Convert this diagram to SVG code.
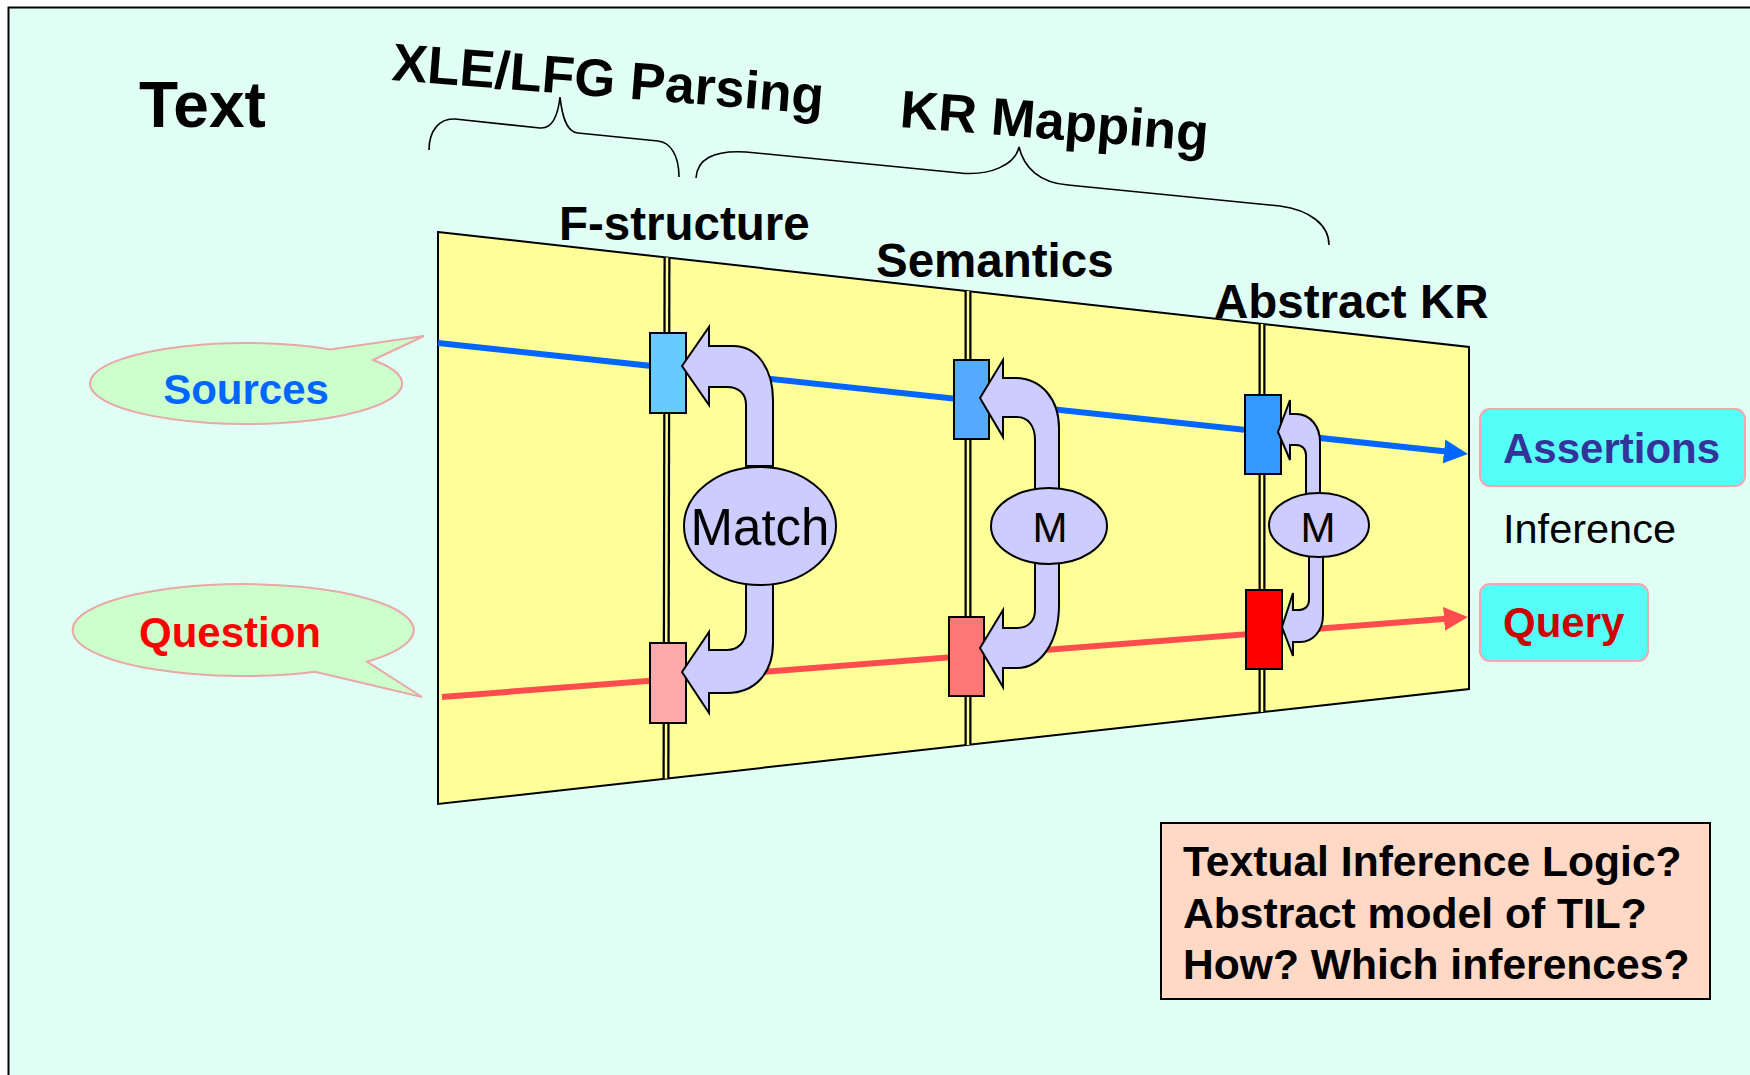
<svg xmlns="http://www.w3.org/2000/svg" width="1750" height="1075" viewBox="0 0 1750 1075">
<defs>
<style>
text{font-family:"Liberation Sans",Arial,sans-serif;}
.b{font-weight:bold;}
.hdr{font-size:47.5px;font-weight:bold;fill:#000;}
.big{font-size:53px;font-weight:bold;fill:#000;}
.brace{fill:none;stroke:#000;stroke-width:1.6;}
.col1{stroke:#000;stroke-width:7;}
.col2{stroke:#FFFF99;stroke-width:2.5;}
.box{stroke:#000;stroke-width:2;}
.carrow{fill:#CCCCFF;stroke:#000;stroke-width:2;stroke-linejoin:miter;}
.mell{fill:#CCCCFF;stroke:#000;stroke-width:2;}
.bubble{fill:#CCFFCC;stroke:#E8A8A8;stroke-width:2;}
.tag{fill:#55FFF8;stroke:#F0A8B0;stroke-width:2;}
.lbl{font-size:42px;font-weight:bold;}
.til{font-size:42.6px;font-weight:bold;fill:#000;}
</style>
<marker id="ab" markerUnits="userSpaceOnUse" markerWidth="26" markerHeight="26" refX="2" refY="12" orient="auto"><path d="M0,0 L24,12 L0,24 Z" fill="#0066FF"/></marker>
<marker id="ar" markerUnits="userSpaceOnUse" markerWidth="26" markerHeight="26" refX="2" refY="12" orient="auto"><path d="M0,0 L24,12 L0,24 Z" fill="#FF4D4D"/></marker>
</defs>
<rect x="0" y="0" width="1750" height="1075" fill="#FFFFFF"/>
<rect id="frame" x="8.5" y="7.5" width="1800" height="1200" fill="#E0FFF5" stroke="#000" stroke-width="2"/>

<g id="title-text"><text class="b" x="139" y="127" font-size="64">Text</text></g>
<g id="xle-parsing"><text class="big" transform="translate(391,80) rotate(4.5)">XLE/LFG Parsing</text>
<path class="brace" d="M429,150 C429,130 440,118 455,119 L540,128 C552,129 558,115 560,97 C562,115 566,132 578,133 L658,141 C670,142 679,155 679,177"/></g>
<g id="kr-mapping"><text class="big" transform="translate(899,127) rotate(4.5)">KR Mapping</text>
<path class="brace" d="M696,178 C697,160 712,150 746,152 L960,173 C990,176 1015,165 1019,147 C1024,168 1040,183 1068,185 L1280,206 C1310,210 1329,225 1329,245"/></g>

<g id="plane"><polygon points="438,232 1469,347 1469,689 438,804" fill="#FFFF99" stroke="#000" stroke-width="2"/></g>

<g id="columns">
<line class="col1" x1="667" y1="257.5" x2="666" y2="778.5"/><line class="col2" x1="667" y1="257.5" x2="666" y2="778.5"/>
<line class="col1" x1="968" y1="291" x2="968" y2="745"/><line class="col2" x1="968" y1="291" x2="968" y2="745"/>
<line class="col1" x1="1262" y1="324" x2="1262" y2="712"/><line class="col2" x1="1262" y1="324" x2="1262" y2="712"/>
</g>

<g id="connectors">
<line x1="438" y1="343" x2="1446" y2="451.6" stroke="#0066FF" stroke-width="6" marker-end="url(#ab)"/>
<line x1="442" y1="697" x2="1446" y2="618.7" stroke="#FF4D4D" stroke-width="6" marker-end="url(#ar)"/>
</g>

<g id="fstructure-boxes">
<rect class="box" x="650" y="333" width="36" height="80" fill="#66CCFF"/>
<rect class="box" x="650" y="643" width="36" height="80" fill="#FFAAAA"/>
</g>
<g id="semantics-boxes">
<rect class="box" x="954" y="360" width="35" height="79" fill="#55AAFF"/>
<rect class="box" x="949" y="617" width="35" height="79" fill="#FF7777"/>
</g>
<g id="abstract-boxes">
<rect class="box" x="1245" y="395" width="36" height="79" fill="#3399FF"/>
<rect class="box" x="1246" y="590" width="36" height="79" fill="#FF0000"/>
</g>

<g id="match">
<path class="carrow" d="M682,366 L709,327 L709,346 L733,346 C758,346 773,370 773,400 L773,466 L746,466 L746,405 C746,393 738,387 727,387 L709,387 L709,405 Z"/>
<path class="carrow" d="M682,672 L709,632 L709,650 L727,650 C738,650 746,642 746,630 L746,580 L773,580 L773,643 C773,673 755,693 727,693 L709,693 L709,713 Z"/>
<ellipse class="mell" cx="760" cy="526" rx="76" ry="59"/>
<text x="760" y="545" font-size="51" text-anchor="middle">Match</text>
</g>

<g id="m-semantics">
<path class="carrow" d="M980,398 L1003,360 L1003,378 L1015,378 C1042,378 1059,400 1059,428 L1059,492 L1035,492 L1035,440 C1035,426 1028,417 1017,417 L1003,417 L1003,437 Z"/>
<path class="carrow" d="M980,648 L1003,610 L1003,628 L1017,628 C1028,628 1035,621 1035,610 L1035,560 L1059,560 L1059,605 C1059,640 1042,668 1017,668 L1003,668 L1003,687 Z"/>
<ellipse class="mell" cx="1049" cy="526" rx="58" ry="38"/>
<text x="1050" y="542" font-size="42" text-anchor="middle">M</text>
</g>

<g id="m-abstract">
<path class="carrow" d="M1278,432 L1290,400 L1290,414 L1296,414 C1310,414 1320,426 1320,442 L1320,496 L1306,496 L1306,455 C1306,449 1302,445 1296,445 L1290,445 L1290,460 Z"/>
<path class="carrow" d="M1282,627 L1293,593 L1293,610 L1299,610 C1305,610 1309,606 1309,600 L1309,555 L1323,555 L1323,615 C1323,632 1312,642 1300,642 L1293,642 L1293,656 Z"/>
<ellipse class="mell" cx="1319" cy="525" rx="50" ry="32"/>
<text x="1318" y="542" font-size="42" text-anchor="middle">M</text>
</g>

<g id="layer-labels">
<text class="hdr" x="559" y="240">F-structure</text>
<text class="hdr" x="876" y="277">Semantics</text>
<text class="hdr" x="1214" y="318">Abstract KR</text>
</g>

<g id="sources">
<path class="bubble" d="M373,360 L424,336 L330,349.4 A156 40.5 0 1 0 373,360 Z"/>
<text class="lbl" x="246" y="404" text-anchor="middle" fill="#0066FF">Sources</text>
</g>
<g id="question">
<path class="bubble" d="M367,661.7 L422,697 L315,671.8 A170.5 46 0 1 1 367,661.7 Z"/>
<text class="lbl" x="230" y="647" text-anchor="middle" fill="#FF0000">Question</text>
</g>

<g id="assertions">
<rect class="tag" x="1480" y="409" width="265" height="77" rx="10"/>
<text class="lbl" x="1503" y="463" fill="#333399">Assertions</text>
</g>
<g id="inference"><text x="1503" y="543" font-size="41.5" fill="#000">Inference</text></g>
<g id="query">
<rect class="tag" x="1480" y="584" width="168" height="77" rx="10"/>
<text class="lbl" x="1503" y="637" fill="#CC0000">Query</text>
</g>

<g id="til-box">
<rect x="1161" y="823" width="549" height="176" fill="#FFD9C5" stroke="#000" stroke-width="2"/>
<text class="til" x="1183" y="876">Textual Inference Logic?</text>
<text class="til" x="1183" y="928">Abstract model of TIL?</text>
<text class="til" x="1183" y="979">How? Which inferences?</text>
</g>
</svg>
